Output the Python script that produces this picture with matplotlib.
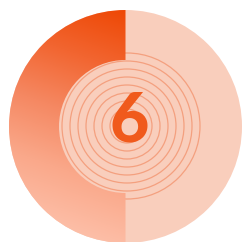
import numpy as np
import matplotlib
matplotlib.use("Agg")
import matplotlib.pyplot as plt
from matplotlib.patches import Wedge, Circle
from matplotlib.colors import LinearSegmentedColormap

# data
value = 6
total = 12
label = "6"
ring_radii = [17, 25, 33, 41, 49, 57, 65, 73]

W, H = 244, 242
fig = plt.figure(figsize=(W / 100, H / 100), dpi=100)
ax = fig.add_axes([0, 0, 1, 1])
ax.set_xlim(0, W)
ax.set_ylim(0, H)
ax.set_aspect("equal")
ax.axis("off")

cx, cy = 125.5, H - 126.5
R_out, R_in = 116.5, 66.5
peach = "#F9CEBC"

ax.add_patch(Circle((cx, cy), R_out, facecolor=peach, edgecolor="none", zorder=1))

for r in ring_radii:
    ax.add_patch(Circle((cx + 1.5, cy + 0.5), r, facecolor="none", edgecolor="#F4A07F",
                        linewidth=0.9, zorder=2))

frac = value / total
theta1 = 90
theta2 = 90 + 360 * frac
wedge = Wedge((cx, cy), R_out, theta1, theta2, width=R_out - R_in,
              facecolor="none", edgecolor="none", zorder=3)
ax.add_patch(wedge)

cmap = LinearSegmentedColormap.from_list(
    "g", ["#EE4805", "#F26530", "#F58862", "#FAA88A", "#FDBFA8"])
xs = np.linspace(0, W, 300)
ys = np.linspace(0, H, 300)
X, Y = np.meshgrid(xs, ys)
# direction from top-right toward bottom-left
d = np.array([-0.35, -1.0])
d = d / np.linalg.norm(d)
p0 = np.array([cx, cy + R_out])
t = ((X - p0[0]) * d[0] + (Y - p0[1]) * d[1]) / (2 * R_out * 0.98)
t = np.clip(t, 0, 1)
im = ax.imshow(t, extent=[0, W, 0, H], origin="lower", cmap=cmap, vmin=0, vmax=1,
               zorder=3, interpolation="bilinear")
im.set_clip_path(wedge)

ax.text(cx + 4, cy + 5, label, ha="center", va="center", fontsize=49,
        fontweight=900, family="Lato", color="#F05A1C", zorder=5)

fig.savefig("out.png", dpi=100, facecolor="white")
